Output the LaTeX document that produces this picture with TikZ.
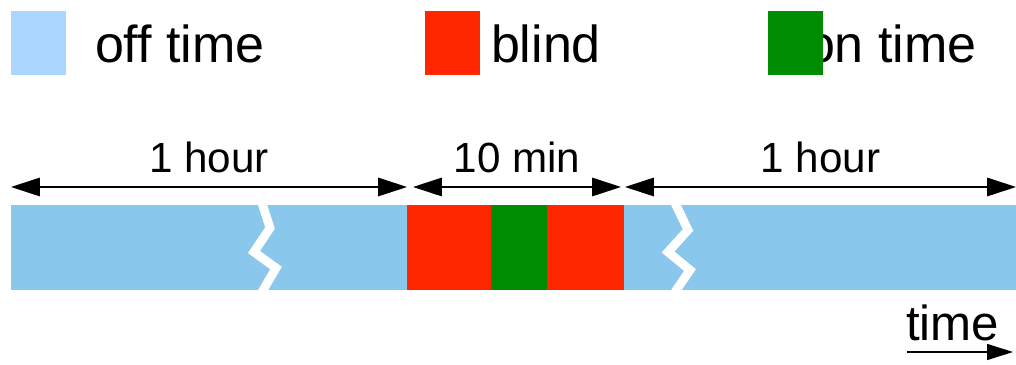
\documentclass[tikz,border=0pt]{standalone}
\usepackage{fontspec}
\setmainfont{Liberation Sans}
\usetikzlibrary{arrows.meta,positioning}
\definecolor{offblue}{RGB}{170,214,255}
\definecolor{barblue}{RGB}{137,199,236}
\definecolor{blindred}{RGB}{255,38,0}
\definecolor{ongreen}{RGB}{0,140,0}

\begin{document}
\begin{tikzpicture}[x=0.025cm, y=-0.025cm,
  every node/.style={inner sep=0pt, outer sep=0pt},
  legendtext/.style={font=\fontsize{37}{40}\selectfont, anchor=base west},
  spanlabel/.style={font=\fontsize{30}{32}\selectfont, above=10pt},
  dimline/.style={{Triangle[length=0.72cm,width=0.46cm]}-{Triangle[length=0.72cm,width=0.46cm]}, line width=1.1pt},
  breakmark/.style={white, line width=0.22cm, line join=miter}]
\useasboundingbox (0,0) rectangle (1016,365);

% legend
\fill[offblue] (11,11) rectangle (66,75);
\node[legendtext] (offtxt) at (95,63) {off time};
\fill[blindred] (425,11) rectangle (480,75);
\node[legendtext] (blindtxt) at (491,63) {blind};
\node[legendtext] (ontxt) at (806,63) {on time};
\fill[ongreen] (768,11) rectangle (823,75);

% the bar
\fill[barblue] (11,205) rectangle (407,290);
\fill[blindred] (407,205) rectangle (491,290);
\fill[ongreen] (491,205) rectangle (547,290);
\fill[blindred] (547,205) rectangle (624,290);
\fill[barblue] (624,205) rectangle (1016,290);

% breaks in the long parts
\draw[breakmark] (262,203) -- (270,228) -- (254,252) -- (276,268) -- (262,292);
\draw[breakmark] (675,203) -- (688,230) -- (668,252) -- (690,270) -- (675,292);

% spans
\coordinate (s0) at (11,187);
\coordinate (s1) at (407,187);
\coordinate (s2) at (413,187);
\coordinate (s3) at (621,187);
\coordinate (s4) at (625,187);
\coordinate (s5) at (1016,187);

\draw[dimline] (s0) -- (s1) node[midway, spanlabel] (hour1) {1 hour};
\draw[dimline] (s2) -- (s3) node[midway, spanlabel] (tenmin) {10 min};
\draw[dimline] (s4) -- (s5) node[midway, spanlabel] (hour2) {1 hour};

% time axis
\node[legendtext, font=\fontsize{35}{38}\selectfont] (timetxt) at (906,341) {time};
\coordinate (t0) at (907,352);
\coordinate (t1) at (1013,352);
\draw[-{Triangle[length=0.65cm,width=0.4cm]}, line width=1.1pt] (t0) -- (t1);
\end{tikzpicture}
\end{document}
